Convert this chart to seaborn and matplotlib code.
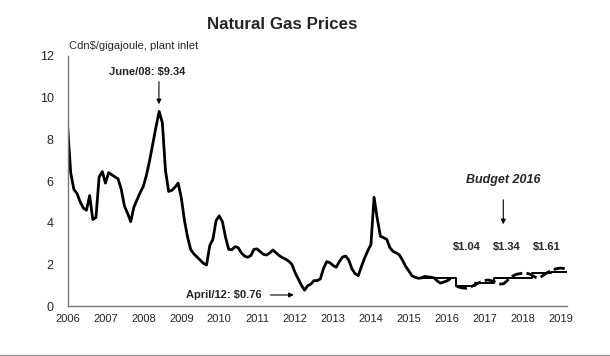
import numpy as np
import pandas as pd
import matplotlib
matplotlib.use("Agg")
import matplotlib.pyplot as plt
from matplotlib.lines import Line2D
import seaborn as sns

# Aylık fiyat verisi (Ocak 2006 - Şubat 2016), Cdn$/GJ
actual = [
    8.7, 6.4, 5.6, 5.4, 5.0, 4.7, 4.6, 5.3, 4.15, 4.25, 6.2, 6.45,
    5.9, 6.4, 6.3, 6.2, 6.1, 5.6, 4.8, 4.45, 4.05, 4.75, 5.1, 5.45,
    5.75, 6.3, 7.0, 7.8, 8.6, 9.34, 8.8, 6.5, 5.5, 5.55, 5.7, 5.9,
    5.2, 4.1, 3.3, 2.7, 2.5, 2.35, 2.2, 2.05, 1.97, 2.9, 3.2, 4.1,
    4.33, 4.05, 3.3, 2.72, 2.7, 2.85, 2.8, 2.55, 2.4, 2.34, 2.42, 2.72,
    2.74, 2.6, 2.48, 2.45, 2.55, 2.69, 2.55, 2.42, 2.32, 2.25, 2.15, 2.0,
    1.6, 1.3, 1.0, 0.76, 0.98, 1.05, 1.22, 1.22, 1.3, 1.8, 2.13, 2.08,
    1.95, 1.86, 2.13, 2.35, 2.4, 2.2, 1.78, 1.55, 1.46, 1.9, 2.3, 2.65,
    2.95, 5.22, 4.2, 3.35, 3.28, 3.2, 2.8, 2.62, 2.55, 2.45, 2.2, 1.9,
    1.68, 1.45, 1.38, 1.33, 1.35, 1.42, 1.4, 1.38, 1.35, 1.2, 1.1, 1.15,
    1.2, 1.3,
]

# Bütçe tahmini, çeyreklik (Nisan 2015 - Ocak 2019)
budget = [1.35, 1.35, 1.35, 1.35, 0.97, 0.97, 1.1, 1.12,
          1.33, 1.33, 1.35, 1.36, 1.57, 1.6, 1.62, 1.64, 1.64]

# Aylık vadeli tahmin (Nisan 2016 - Mart 2019)
futures = [
    0.97, 0.9, 0.87, 0.85, 0.88, 0.95, 1.02, 1.1, 1.18,
    1.22, 1.25, 1.22, 1.17, 1.1, 1.05, 1.07, 1.2, 1.35, 1.45, 1.52, 1.55,
    1.57, 1.57, 1.55, 1.48, 1.38, 1.35, 1.42, 1.52, 1.62, 1.7, 1.76, 1.8,
    1.82, 1.8, 1.78,
]

fy_labels = ["$1.04", "$1.34", "$1.61"]
fy_centers = [2016.54, 2017.59, 2018.64]
year_ticks = list(range(2006, 2020))

df_act = pd.DataFrame({"t": 2006 + np.arange(len(actual)) / 12, "v": actual})
df_fut = pd.DataFrame({"t": 2016.25 + np.arange(len(futures)) / 12, "v": futures})
df_bud = pd.DataFrame({"t": 2015.25 + np.arange(len(budget)) / 4, "v": budget})
df_bud.loc[len(df_bud)] = [2019.17, budget[-1]]

sns.set_style("white")
plt.rcParams["font.family"] = ["Liberation Sans", "DejaVu Sans"]

fig = plt.figure(figsize=(6.1, 3.56), dpi=100)
ax = fig.add_axes([0.1107, 0.1404, 0.8188, 0.7023])

sns.lineplot(data=df_bud, x="t", y="v", ax=ax, color="black", lw=1.4, drawstyle="steps-post")
sns.lineplot(data=df_fut, x="t", y="v", ax=ax, color="black", lw=2.0, linestyle=(0, (4, 1.5)))
sns.lineplot(data=df_act, x="t", y="v", ax=ax, color="black", lw=2.0)

ax.set_xlim(2006, 2019.17)
ax.set_ylim(0, 12)
ax.set_xticks(year_ticks)
ax.set_xticklabels([str(y) for y in year_ticks])
ax.set_yticks(range(0, 13, 2))
ax.tick_params(axis="x", length=0, labelsize=8, pad=6)
ax.tick_params(axis="y", length=0, labelsize=9, pad=10)
ax.set_xlabel("")
ax.set_ylabel("")
for s in ["top", "right"]:
    ax.spines[s].set_visible(False)
for s in ["left", "bottom"]:
    ax.spines[s].set_color("#777777")
    ax.spines[s].set_linewidth(1.0)

fig.text(0.463, 0.93, "Natural Gas Prices", ha="center", va="center",
         fontsize=12.2, fontweight="bold")
ax.text(2006.04, 12.48, "Cdn$/gigajoule, plant inlet", ha="left", va="center", fontsize=8)

arrow = dict(arrowstyle="-|>", color="black", lw=0.8, mutation_scale=7)
ax.text(2008.1, 11.23, "June/08: $9.34", ha="center", va="center", fontsize=8, fontweight="bold")
ax.annotate("", xy=(2008.41, 9.55), xytext=(2008.41, 10.9), arrowprops=arrow)
ax.text(2010.12, 0.53, "April/12: $0.76", ha="center", va="center", fontsize=8, fontweight="bold")
ax.annotate("", xy=(2012.04, 0.53), xytext=(2011.28, 0.53), arrowprops=arrow)
ax.text(2017.5, 6.05, "Budget 2016", ha="center", va="center", fontsize=9,
        fontweight="bold", fontstyle="italic")
ax.annotate("", xy=(2017.49, 3.79), xytext=(2017.49, 5.23), arrowprops=arrow)
for lab, xc in zip(fy_labels, fy_centers):
    ax.text(xc, 2.83, lab, ha="center", va="center", fontsize=8, fontweight="bold")

fig.add_artist(Line2D([0, 1], [0.004, 0.004], transform=fig.transFigure, color="#999999", lw=1))

fig.savefig("out.png", dpi=100)
